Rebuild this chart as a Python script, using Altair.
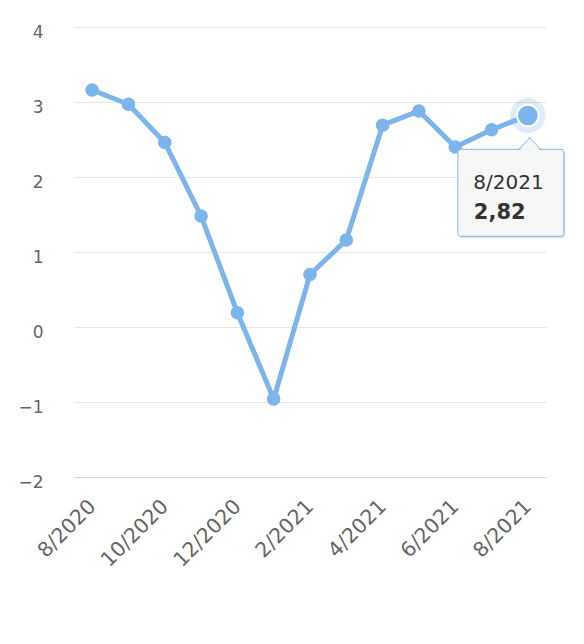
import altair as alt
import pandas as pd

# data
months = ["8/2020", "9/2020", "10/2020", "11/2020", "12/2020", "1/2021", "2/2021",
          "3/2021", "4/2021", "5/2021", "6/2021", "7/2021", "8/2021"]
values = [3.16, 2.97, 2.46, 1.48, 0.19, -0.96, 0.70, 1.16, 2.69, 2.88, 2.40, 2.63, 2.82]
tick_months = months[::2]
y_ticks = [-2, -1, 0, 1, 2, 3, 4]

dat = pd.DataFrame({"month": months, "value": values})
# hovered point shown in the tooltip
hover = dat.tail(1).copy()
hover["label"] = hover["value"].map(lambda v: f"{v:.2f}".replace(".", ","))

blue = "#7cb5ec"
font = "DejaVu Sans"

x = alt.X("month:O", title=None,
          scale=alt.Scale(type="point", domain=months, padding=0.5),
          axis=alt.Axis(values=tick_months, labelAngle=-45, labelAlign="right",
                        labelBaseline="middle", labelPadding=26, labelFontSize=20.5,
                        labelColor="#666666", labelFont=font, domainColor="#ccd6eb",
                        ticks=False, grid=False))
y = alt.Y("value:Q", title=None,
          scale=alt.Scale(domain=[-2, 4], nice=False, zero=False),
          axis=alt.Axis(values=y_ticks, labelFontSize=17, labelColor="#666666",
                        labelFont=font, labelPadding=31, labelOffset=5,
                        labelBaseline="middle", domain=False, ticks=False,
                        gridColor="#e6e6e6", gridWidth=1))

line = alt.Chart(dat).mark_line(color=blue, strokeWidth=5).encode(x=x, y=y)
points = alt.Chart(dat).mark_point(filled=True, color=blue, size=185, opacity=1).encode(x=x, y=y)

halo = alt.Chart(hover).mark_point(filled=True, color=blue, size=1250, opacity=0.25).encode(x=x, y=y)
hover_pt = (alt.Chart(hover)
            .mark_point(filled=True, fill=blue, stroke="white", strokeWidth=2, size=470, opacity=1)
            .encode(x=x, y=y))

# tooltip box
box_w, box_h = 106, 87
shadow1 = (alt.Chart(hover)
           .mark_rect(width=box_w, height=box_h, xOffset=-15, yOffset=79.5,
                      cornerRadius=3, color="black", opacity=0.06)
           .encode(x=x, y=y))
shadow2 = (alt.Chart(hover)
           .mark_rect(width=box_w, height=box_h, xOffset=-16, yOffset=78.5,
                      cornerRadius=3, color="black", opacity=0.08)
           .encode(x=x, y=y))
callout = alt.Chart(hover).mark_point(
    shape="M-1,0L0,-1.07L1,0Z", size=576, filled=True, fill="#f7f7f7",
    stroke=blue, strokeWidth=1, opacity=1, xOffset=1.9, yOffset=35.1
).encode(x=x, y=y)
box = (alt.Chart(hover)
       .mark_rect(width=box_w, height=box_h, xOffset=-17, yOffset=77.3, cornerRadius=3,
                  fill="#f7f7f7", stroke=blue, strokeWidth=1)
       .encode(x=x, y=y))
callout_fill = alt.Chart(hover).mark_point(
    shape="M-0.92,0.08L0,-0.98L0.92,0.08Z", size=576, filled=True, fill="#f7f7f7",
    strokeWidth=0, opacity=1, xOffset=1.9, yOffset=35.1
).encode(x=x, y=y)

tip_date = (alt.Chart(hover)
            .mark_text(align="left", baseline="alphabetic", dx=-54.5, dy=73.8,
                       fontSize=20, font=font, color="#333333")
            .encode(x=x, y=y, text="month"))
tip_value = (alt.Chart(hover)
             .mark_text(align="left", baseline="alphabetic", dx=-54, dy=103.8,
                        fontSize=21, font=font, fontWeight="bold", color="#333333")
             .encode(x=x, y=y, text="label"))

chart = (alt.layer(line, points, halo, hover_pt, shadow1, shadow2, callout, box,
                   callout_fill, tip_date, tip_value)
         .properties(width=472, height=450,
                     autosize=alt.AutoSizeParams(type="none"),
                     padding={"left": 66, "top": 19, "right": 30, "bottom": 100})
         .configure_view(stroke=None))

chart.save("out.html", embed_options={"renderer": "svg", "actions": False})
